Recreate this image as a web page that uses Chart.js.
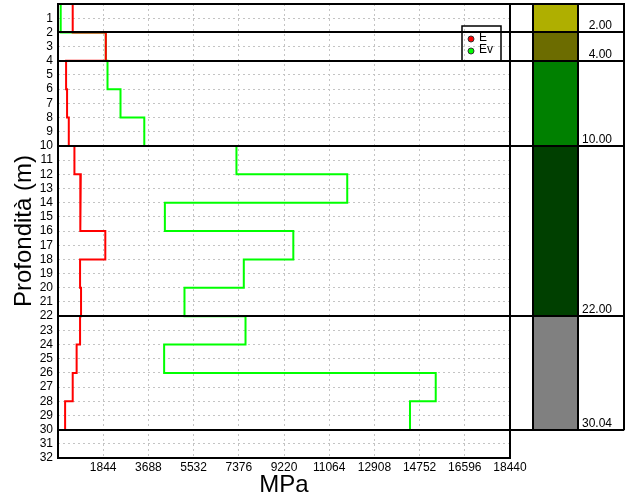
<!DOCTYPE html>
<html>
<head>
<meta charset="utf-8">
<script src="https://cdn.jsdelivr.net/npm/chart.js@4/dist/chart.umd.min.js"></script>
<style>
  html, body { margin: 0; padding: 0; background: #fff; }
</style>
</head>
<body>
<canvas id="profile" width="629" height="500"></canvas>
<script>
// Layer tops / bottoms (m) and moduli (MPa)
const layerTop    = [0, 2, 4, 6, 8, 10, 12, 14, 16, 18, 20, 22, 24, 26, 28];
const layerBottom = [2, 4, 6, 8, 10, 12, 14, 16, 18, 20, 22, 24, 26, 28, 30];
const eValues  = [600, 1950, 330, 370, 440, 670, 930, 900, 1930, 900, 940, 900, 760, 600, 290];
const evValues = [110, 1950, 2020, 2550, 3520, 7280, 11800, 4360, 9600, 7580, 5160, 7650, 4330, 15410, 14360];

// Stratigraphy column
const strataDepths = [2.00, 4.00, 10.00, 22.00, 30.04];
const strataColors = ['#afaf00', '#6c6c00', '#008000', '#004000', '#808080'];

// Axis ticks
const xStep = 1844;
const xMax = 18440;
const yMax = 32;

const FONT = "'Liberation Sans', Arial, sans-serif";

// step profile: two points per layer
function stepPoints(values) {
    const pts = [];
    values.forEach((v, i) => {
        pts.push({ x: v, y: layerTop[i] });
        pts.push({ x: v, y: layerBottom[i] });
    });
    return pts;
}

const overlay = {
    id: 'overlay',
    afterDatasetsDraw(chart) {
        const { ctx, chartArea: a, scales: { y } } = chart;
        const colL = a.right + 23, colR = a.right + 68, boxR = a.right + 114;
        const yTop = y.getPixelForValue(0);
        const yBot = y.getPixelForValue(strataDepths[strataDepths.length - 1]);
        ctx.save();

        // strata fills + depth labels
        let prev = 0;
        strataDepths.forEach((d, i) => {
            const y0 = y.getPixelForValue(prev), y1 = y.getPixelForValue(d);
            ctx.fillStyle = strataColors[i];
            ctx.fillRect(colL, y0, colR - colL, y1 - y0);
            ctx.fillStyle = '#000';
            ctx.font = '12px ' + FONT;
            ctx.textAlign = 'right';
            ctx.textBaseline = 'alphabetic';
            ctx.fillText(d.toFixed(2), boxR - 12, y1 - 3);
            prev = d;
        });

        // legend (no fill, grid shows through)
        const lg = { x: 462, y: 26, w: 39, h: 35 };
        ctx.lineWidth = 1.5;
        ctx.strokeStyle = '#000';
        ctx.strokeRect(lg.x, lg.y, lg.w, lg.h);
        chart.data.datasets.forEach((ds, i) => {
            const cy = lg.y + 13 + i * 12;
            ctx.beginPath();
            ctx.arc(lg.x + 9, cy, 3, 0, Math.PI * 2);
            ctx.fillStyle = ds.borderColor;
            ctx.fill();
            ctx.lineWidth = 1;
            ctx.strokeStyle = '#333';
            ctx.stroke();
            ctx.fillStyle = '#000';
            ctx.font = '12px ' + FONT;
            ctx.textAlign = 'left';
            ctx.textBaseline = 'middle';
            ctx.fillText(ds.label, lg.x + 17, cy - 1);
        });

        // frames and boundaries
        ctx.lineWidth = 2;
        ctx.strokeStyle = '#000';
        ctx.strokeRect(a.left, a.top, a.width, a.height);
        ctx.beginPath();
        ctx.moveTo(a.right, yTop); ctx.lineTo(boxR, yTop); ctx.lineTo(boxR, yBot);
        ctx.moveTo(colL, yTop); ctx.lineTo(colL, yBot);
        ctx.moveTo(colR, yTop); ctx.lineTo(colR, yBot);
        strataDepths.forEach(d => {
            const py = Math.round(y.getPixelForValue(d));
            ctx.moveTo(a.left, py);
            ctx.lineTo(boxR, py);
        });
        ctx.stroke();
        ctx.restore();
    }
};

const gridStyle = {
    color: '#c4c4c4',
    lineWidth: 1,
    drawTicks: false
};

new Chart(document.getElementById('profile'), {
    type: 'line',
    data: {
        datasets: [
            {
                label: 'E',
                data: stepPoints(eValues),
                borderColor: '#ff0000',
                borderWidth: 2,
                pointRadius: 0,
                tension: 0
            },
            {
                label: 'Ev',
                data: stepPoints(evValues),
                borderColor: '#00ff00',
                borderWidth: 2,
                pointRadius: 0,
                tension: 0
            }
        ]
    },
    options: {
        responsive: false,
        animation: false,
        layout: { padding: { top: 4, right: 119, left: 0, bottom: 0 } },
        plugins: {
            legend: { display: false },
            tooltip: { enabled: false }
        },
        scales: {
            x: {
                type: 'linear',
                min: 0,
                max: xMax,
                grid: gridStyle,
                border: { display: false, dash: [2, 3] },
                ticks: {
                    stepSize: xStep,
                    autoSkip: false,
                    padding: 2,
                    color: '#000',
                    font: { family: FONT, size: 12 },
                    callback: v => v === 0 ? '' : v
                },
                title: {
                    display: true,
                    text: 'MPa',
                    color: '#000',
                    font: { family: FONT, size: 24 },
                    padding: { top: 3, bottom: 0 }
                },
                afterFit: s => { s.height = 42; }
            },
            y: {
                type: 'linear',
                min: 0,
                max: yMax,
                reverse: true,
                grid: gridStyle,
                border: { display: false, dash: [2, 3] },
                ticks: {
                    stepSize: 1,
                    autoSkip: false,
                    padding: 5,
                    color: '#000',
                    font: { family: FONT, size: 12 },
                    callback: v => v === 0 ? '' : v
                },
                title: {
                    display: true,
                    text: 'Profondità (m)',
                    color: '#000',
                    font: { family: FONT, size: 24 },
                    padding: { top: 10, bottom: 0 }
                },
                afterFit: s => {
                    s.width = 58;
                    s.paddingTop = 0;
                    s.paddingBottom = 0;
                }
            }
        }
    },
    plugins: [overlay]
});
</script>
</body>
</html>
